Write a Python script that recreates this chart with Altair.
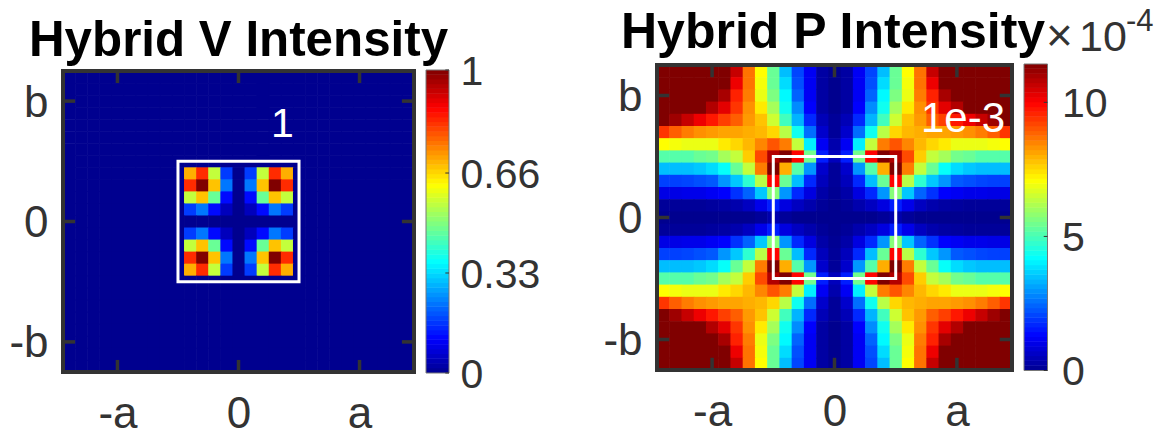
import altair as alt

TITLES = ["Hybrid V Intensity", "Hybrid P Intensity"]
X_LABELS = ["-a", "0", "a"]
Y_LABELS = ["b", "0", "-b"]
X_TICKS = [4, 14, 24]
Y_TICKS = [2, 12, 22]
V_CB_TICKS = [0, 0.33, 0.66, 1]
P_CB_TICKS = [0, 5, 10]
P_MAX = 11.43

# colour map stops (fraction of colour range)
JET_POS = [0, 0.111, 0.365, 0.62, 0.873, 1]
JET_COL = ["#00008f", "#0000ff", "#00ffff", "#ffff00", "#ff0000", "#800000"]

# Hybrid V: 4x4 hot patch in the top-left quadrant, fractions of the colour range
V_PATCH = [
    [0.70, 0.83, 0.56, 0.17],
    [0.83, 1.00, 0.68, 0.23],
    [0.56, 0.68, 0.47, 0.12],
    [0.17, 0.23, 0.12, 0.045],
]
# Hybrid P: top-left quadrant including centre row and centre column
P_QUAD = [
    [1, 1, 1, 1, 1, 1, .93, .76, .62, .47, .30, .18, .10, .02, 0],
    [1, 1, 1, 1, 1, 1, .89, .76, .61, .47, .33, .19, .10, .02, 0],
    [1, 1, 1, 1, 1, .96, .84, .75, .60, .49, .36, .21, .10, .02, 0],
    [1, 1, 1, 1, .95, .90, .82, .73, .64, .53, .38, .25, .11, .02, 0],
    [1, .97, .93, .89, .85, .81, .78, .72, .68, .57, .43, .29, .15, .04, .01],
    [.82, .78, .75, .73, .72, .71, .71, .70, .69, .66, .55, .38, .22, .06, .01],
    [.62, .61, .60, .60, .60, .64, .66, .69, .74, .79, .75, .56, .35, .10, .03],
    [.45, .45, .45, .47, .48, .53, .56, .67, .80, .95, 1.0, .87, .48, .14, .045],
    [.30, .30, .30, .31, .33, .37, .47, .56, .75, 1.0, .70, .45, .26, .06, .01],
    [.175, .175, .18, .19, .20, .26, .31, .41, .55, .87, .47, .30, .15, .045, .01],
    [.085, .085, .09, .09, .10, .11, .16, .21, .31, .50, .26, .15, .08, .025, .005],
    [.01, .01, .01, .01, .015, .02, .03, .05, .09, .14, .08, .05, .03, .01, 0],
    [0, 0, 0, 0, 0, 0, 0, 0, .01, .03, .01, 0, 0, 0, 0],
]

NCOL, NROW = 29, 25
TXT = "#333333"
FONT = "Liberation Sans"
O = 8  # page margin
LAP = 0.55  # each cell reaches slightly under its next neighbour so no seam shows


def p(v):
    return v - O


def cells_v():
    out = []
    for r in range(NROW):
        for c in range(NCOL):
            rr = min(r, NROW - 1 - r)
            cc = min(c, NCOL - 1 - c)
            v = 0.0
            if 8 <= rr <= 11 and 10 <= cc <= 13:
                v = V_PATCH[rr - 8][cc - 10]
            out.append({"c0": c - .5, "c1": c + LAP, "r0": r - .5, "r1": r + LAP, "v": v})
    return out


def cells_p():
    out = []
    for r in range(NROW):
        for c in range(NCOL):
            rr = min(r, NROW - 1 - r)
            cc = min(c, NCOL - 1 - c)
            out.append({"c0": c - .5, "c1": c + LAP, "r0": r - .5, "r1": r + LAP, "v": P_QUAD[rr][cc]})
    return out


color = alt.Scale(domain=JET_POS, range=JET_COL, interpolate="rgb", clamp=True)


def panel(cells, L, R, T, B, wb):
    xs = alt.Scale(domain=[-.5, NCOL - .5], range=[p(L), p(R)], nice=False, zero=False)
    ys = alt.Scale(domain=[-.5, NROW - .5], range=[p(T), p(B)], nice=False, zero=False)
    X = lambda f, **k: alt.X(f, type="quantitative", scale=xs, title=None, **k)
    Y = lambda f, **k: alt.Y(f, type="quantitative", scale=ys, title=None, **k)
    noax = dict(axis=None)
    heat = alt.Chart(alt.Data(values=cells)).mark_rect().encode(
        x=X("c0:Q", **noax), x2="c1:Q", y=Y("r0:Q", **noax), y2="r1:Q",
        fill=alt.Fill("v:Q", scale=color, legend=None),
    )
    box = alt.Chart(alt.Data(values=[{"a": wb[0], "b": wb[1], "c": wb[2], "d": wb[3]}])).mark_rect(
        fill=None, stroke="white", strokeWidth=3, strokeJoin="miter"
    ).encode(x=X("a:Q", **noax), x2="b:Q", y=Y("c:Q", **noax), y2="d:Q")
    ticks = []
    for t in X_TICKS:
        ticks.append({"a": t, "b": t, "c": -.5, "d": .5})
        ticks.append({"a": t, "b": t, "c": NROW - 1.5, "d": NROW - .5})
    for t in Y_TICKS:
        ticks.append({"a": -.5, "b": .5, "c": t, "d": t})
        ticks.append({"a": NCOL - 1.5, "b": NCOL - .5, "c": t, "d": t})
    tk = alt.Chart(alt.Data(values=ticks)).mark_rule(color=TXT, strokeWidth=3.5).encode(
        x=X("a:Q", **noax), x2="b:Q", y=Y("c:Q", **noax), y2="d:Q"
    )
    frame = alt.Chart(alt.Data(values=[{"a": -.5, "b": NCOL - .5, "c": -.5, "d": NROW - .5}])).mark_rect(
        fill=None, stroke=TXT, strokeWidth=4
    ).encode(x=X("a:Q", **noax), x2="b:Q", y=Y("c:Q", **noax), y2="d:Q")

    xexpr = "{'4':'-a','14':'0','24':'a'}[datum.value]"
    yexpr = "{'2':'b','12':'0','22':'-b'}[datum.value]"
    ax_common = dict(grid=False, domain=False, ticks=False, labelFontSize=44, labelColor=TXT, labelFont=FONT,
                     title=None, labelOverlap=False, labelFlush=False)
    axes = alt.Chart(alt.Data(values=[{"a": 14, "c": 12}])).mark_point(opacity=0).encode(
        x=X("a:Q", axis=alt.Axis(values=X_TICKS, labelExpr=xexpr, orient="bottom",
                                 offset=p(B) - HEIGHT, labelPadding=AX_XPAD, **ax_common)),
        y=Y("c:Q", axis=alt.Axis(values=Y_TICKS, labelExpr=yexpr, orient="left",
                                 offset=-p(L), labelPadding=AX_YPAD, labelOffset=2, **ax_common)),
    )
    return [heat, box, tk, frame, axes]


def colorbar(L, R, T, B, vmax, vals, fmt, pad):
    xs = alt.Scale(domain=[0, 1], range=[p(L), p(R)], nice=False, zero=False)
    ys = alt.Scale(domain=[0, vmax], range=[p(B), p(T)], nice=False, zero=False)
    X = lambda f, **k: alt.X(f, type="quantitative", scale=xs, title=None, **k)
    Y = lambda f, **k: alt.Y(f, type="quantitative", scale=ys, title=None, **k)
    lv = [{"y0": i / 64 * vmax, "y1": (i + 1.1) / 64 * vmax if i < 63 else vmax, "a": 0, "b": 1, "v": (i + .5) / 64}
          for i in range(64)]
    bar = alt.Chart(alt.Data(values=lv)).mark_rect().encode(
        x=X("a:Q", axis=None), x2="b:Q", y=Y("y0:Q", axis=None), y2="y1:Q",
        fill=alt.Fill("v:Q", scale=color, legend=None),
    )
    fr = alt.Chart(alt.Data(values=[{"a": 0, "b": 1, "c": 0, "d": vmax}])).mark_rect(
        fill=None, stroke="#777777", strokeWidth=1
    ).encode(x=X("a:Q", axis=None), x2="b:Q", y=Y("c:Q", axis=None), y2="d:Q")
    tk = alt.Chart(alt.Data(values=[{"a": .84, "b": 1, "c": v} for v in vals])).mark_rule(
        color=TXT, strokeWidth=1
    ).encode(x=X("a:Q", axis=None), x2="b:Q", y=Y("c:Q", axis=None))
    axes = alt.Chart(alt.Data(values=[{"a": .5, "c": vals[0]}])).mark_point(opacity=0).encode(
        x=X("a:Q", axis=None),
        y=Y("c:Q", axis=alt.Axis(values=vals, orient="right", offset=p(R) - WIDTH, labelPadding=pad, format=fmt,
                                 grid=False, domain=False, ticks=False, labelFontSize=41, labelColor=TXT,
                                 labelFont=FONT, title=None, labelOverlap=False, labelFlush=False,
                                 labelAlign="left", labelOffset=2)),
    )
    return [bar, fr, tk, axes]


def text(t, x, y, size, col=TXT, weight="normal", align="left"):
    return alt.Chart(alt.Data(values=[{"t": t}])).mark_text(
        font=FONT, fontSize=size, color=col, fontWeight=weight, align=align, baseline="alphabetic"
    ).encode(x=alt.value(p(x)), y=alt.value(p(y)), text="t:N")


WIDTH, HEIGHT = 1149, 424
AX_XPAD, AX_YPAD = 20, 15

layers = []
layers += panel(cells_v(), 63, 414, 71, 372, [9, 19, 7, 17])
layers += colorbar(426, 449, 70, 373, 1, V_CB_TICKS, ".3~f", 11)
layers += panel(cells_p(), 657, 1012, 65, 370, [9, 19, 7, 17])
layers += colorbar(1024, 1047.5, 64, 370.5, P_MAX, P_CB_TICKS, "d", 14)
layers += [
    text(TITLES[0], 29, 56, 49.3, "#000000", "bold"),
    text(TITLES[1], 621, 48, 50, "#000000", "bold"),
    text("1", 271, 137, 41, "#ffffff"),
    text("1e-3", 921, 132, 42, "#ffffff"),
    text("\u00d7", 1046, 51, 46),
    text("10", 1079, 51, 43),
    text("-4", 1126, 31, 31),
]

chart = alt.layer(*layers).resolve_scale(
    x="independent", y="independent"
).resolve_axis(x="independent", y="independent").properties(
    width=WIDTH, height=HEIGHT, padding=0, autosize=alt.AutoSizeParams(type="none"),
).configure_view(stroke=None)

chart.save("out.html", embed_options={"renderer": "svg", "actions": False})
